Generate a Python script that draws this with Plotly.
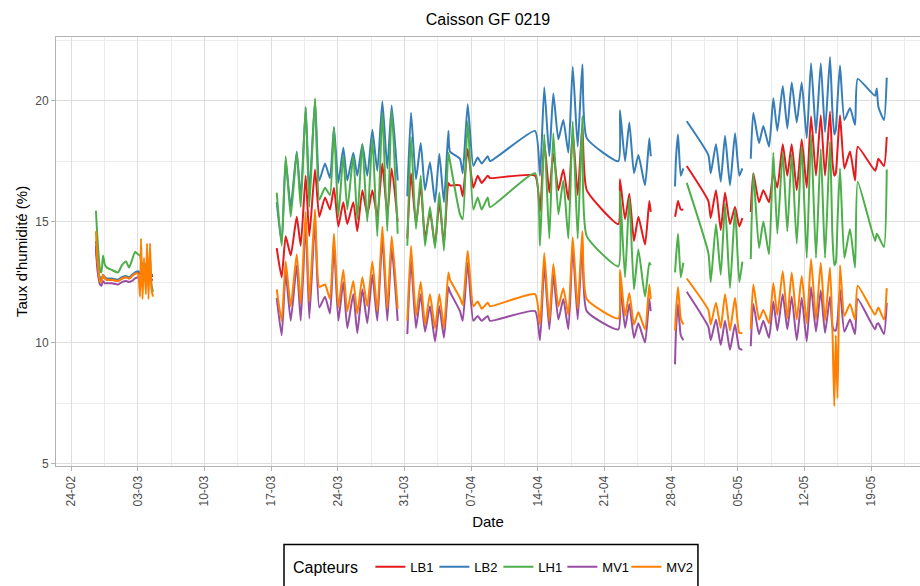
import pandas as pd
import plotly.graph_objects as go

# time of each reading, in days after 24-02-2019 (one list per recording block)
t1 = [2.62, 2.78, 3.05, 3.20, 3.36, 3.57, 3.78, 4.30, 4.93, 5.35, 5.78, 6.09, 6.40, 6.72, 7.03,
      7.25, 7.35, 7.51, 7.66, 7.87, 7.98, 8.14, 8.29, 8.45, 8.61]
t2 = [21.60, 22.12, 22.54, 23.07, 23.70, 24.12, 24.64, 25.02, 25.62, 26.07, 26.67, 27.19, 27.61,
      28.07, 28.59, 29.01, 29.64, 30.06, 30.59, 31.11, 31.64, 32.16, 32.69, 33.21, 33.67, 34.30]
t3 = [35.31, 35.70, 36.22, 36.72, 37.17, 37.69, 38.22, 38.67, 39.16, 39.62, 39.79, 40.84, 41.13,
      41.65, 42.24, 42.70, 43.12, 43.75, 43.99, 48.72, 49.24, 49.69, 50.22, 50.64, 51.17, 51.69,
      52.22, 52.68, 53.20, 53.69, 54.15, 57.47, 57.64, 58.17, 58.62, 59.11, 59.57, 60.27, 60.72, 60.87]
t4 = [63.42, 63.52, 63.73, 64.02, 64.29]
t5 = [64.65, 66.92, 67.17, 67.72, 68.22, 68.67, 69.19, 69.72, 70.17, 70.49]
t6 = [71.37, 71.64, 72.24, 72.69, 73.29, 73.74, 74.16, 74.73, 75.21, 75.67, 76.20, 76.72, 77.25,
      77.70, 78.22, 78.72, 79.17, 79.69, 79.94, 80.14, 80.30, 80.48, 80.74, 81.20, 81.79, 82.32,
      82.60, 84.42, 84.60, 84.77, 85.36, 85.65]
times = [t1, t2, t3, t4, t5, t6]

lb1 = [
    [14.0, 13.2, 12.6, 12.55, 12.75, 12.65, 12.6, 12.6, 12.55, 12.65, 12.7, 12.65, 12.75, 12.85, 12.9,
     12.85, 12.8, 12.75, 12.85, 12.8, 12.75, 12.75, 12.85, 12.75, 12.75],
    [13.9, 12.7, 14.4, 13.6, 15.2, 14.0, 16.9, 14.4, 17.15, 15.2, 16.0, 15.5, 16.4, 14.8, 15.8, 14.9,
     15.8, 14.6, 16.3, 15.3, 16.3, 15.2, 17.4, 15.3, 17.2, 15.0],
    [14.3, 17.0, 14.9, 16.5, 14.3, 15.4, 14.05, 15.8, 14.1, 16.6, 16.5, 16.5, 16.05, 18.0, 16.4, 16.9,
     16.6, 16.9, 16.8, 16.9, 15.4, 18.3, 16.2, 17.8, 16.3, 17.15, 15.9, 18.7, 16.1, 18.95, 16.3, 14.9,
     16.75, 15.1, 16.15, 14.2, 15.2, 14.05, 15.85, 15.4],
    [15.2, 15.4, 15.85, 15.5, 15.5],
    [17.3, 15.85, 15.15, 16.3, 14.65, 16.2, 14.9, 15.6, 14.8, 15.15],
    [15.4, 17.0, 15.8, 16.3, 15.8, 17.0, 16.4, 18.2, 16.9, 18.2, 16.3, 18.4, 16.4, 19.35, 16.9, 19.4,
     16.9, 19.55, 17.5, 16.9, 17.0, 18.0, 19.4, 17.2, 17.9, 16.7, 18.1, 17.1, 17.3, 17.6, 17.3, 18.5],
]
lb2 = [
    [14.2, 13.3, 12.65, 12.6, 12.8, 12.7, 12.65, 12.65, 12.6, 12.7, 12.75, 12.7, 12.8, 12.9, 12.95,
     12.9, 12.85, 12.8, 12.9, 12.85, 12.8, 12.8, 12.9, 12.8, 12.8],
    [15.8, 14.1, 17.5, 15.6, 17.9, 16.0, 19.7, 16.2, 20.0, 16.7, 17.4, 16.8, 18.9, 16.6, 18.05, 16.7,
     17.85, 16.9, 18.2, 16.9, 18.8, 17.1, 19.97, 17.2, 19.8, 16.7],
    [16.05, 19.5, 16.75, 18.25, 16.3, 17.45, 15.8, 17.8, 15.8, 18.75, 17.9, 17.6, 17.0, 19.85, 17.3,
     17.65, 17.4, 17.7, 17.5, 18.75, 16.9, 20.55, 17.7, 20.3, 18.4, 19.2, 17.85, 21.4, 18.1, 21.5,
     18.45, 17.5, 19.6, 17.5, 19.1, 17.0, 17.75, 16.5, 18.45, 17.7],
    [16.45, 17.6, 18.6, 16.9, 17.2],
    [19.15, 17.75, 17.0, 18.2, 16.65, 18.55, 16.5, 18.65, 16.9, 17.2],
    [17.6, 19.5, 18.25, 18.95, 18.1, 20.1, 18.75, 20.6, 18.85, 20.75, 19.1, 20.75, 18.45, 21.55, 18.65,
     21.55, 18.7, 21.8, 19.6, 18.6, 18.8, 20.0, 21.45, 19.2, 19.7, 19.0, 20.9, 20.2, 20.5, 19.75, 19.2,
     20.95],
]
lh1 = [
    [15.45, 14.3, 13.0, 12.9, 13.6, 13.2, 13.1, 13.0, 12.9, 13.2, 13.35, 13.1, 13.4, 13.75, 13.65,
     13.6, 13.4, 13.2, 13.3, 13.15, 12.9, 13.0, 13.6, 12.4, 12.1],
    [16.2, 14.0, 17.7, 15.2, 17.85, 15.6, 19.75, 15.6, 20.1, 15.9, 16.4, 16.1, 18.9, 15.2, 17.7, 15.5,
     17.7, 15.1, 18.2, 15.0, 18.45, 14.4, 19.5, 14.6, 19.6, 14.5],
    [14.0, 18.5, 14.7, 16.9, 14.0, 15.6, 13.9, 16.2, 13.8, 17.85, 17.5, 15.3, 15.1, 19.15, 15.5, 16.0,
     15.5, 16.0, 15.6, 17.0, 14.0, 18.6, 14.3, 18.65, 15.3, 16.7, 14.3, 19.15, 14.3, 19.35, 14.4, 13.15,
     16.25, 12.7, 16.0, 12.2, 13.85, 11.9, 13.3, 13.2],
    [12.9, 13.5, 14.5, 12.7, 13.3],
    [16.6, 13.7, 12.5, 14.9, 12.8, 15.75, 12.25, 15.5, 12.5, 13.35],
    [13.45, 17.0, 13.9, 15.0, 13.65, 17.85, 14.5, 17.85, 14.6, 17.8, 14.1, 18.1, 13.5, 18.6, 13.5, 18.0,
     13.5, 18.3, 14.5, 13.2, 13.3, 15.0, 17.2, 13.5, 14.7, 13.1, 16.65, 14.2, 14.5, 14.4, 13.95, 17.15],
]
mv1 = [
    [13.9, 13.0, 12.4, 12.35, 12.55, 12.45, 12.45, 12.45, 12.4, 12.5, 12.55, 12.5, 12.55, 12.65, 12.7,
     12.7, 12.65, 12.6, 12.65, 12.6, 12.6, 12.6, 12.65, 12.6, 12.6],
    [11.85, 10.3, 12.9, 10.9, 13.2, 10.9, 14.9, 11.0, 15.0, 11.45, 11.9, 11.2, 14.0, 10.9, 12.5, 10.6,
     12.0, 10.4, 12.2, 10.8, 12.8, 10.9, 14.3, 10.9, 13.9, 10.9],
    [10.35, 13.4, 10.6, 12.0, 10.45, 11.5, 10.05, 11.5, 10.2, 12.3, 12.1, 11.3, 10.9, 13.3, 10.9, 11.1,
     10.9, 11.1, 10.9, 11.3, 10.1, 13.2, 10.55, 12.8, 10.95, 11.8, 10.55, 13.9, 10.95, 14.1, 11.3, 10.55,
     12.6, 10.6, 11.6, 10.2, 10.8, 10.0, 11.8, 11.3],
    [9.1, 10.5, 11.6, 10.3, 10.1],
    [12.1, 10.65, 10.1, 10.95, 9.9, 10.9, 9.7, 10.75, 9.75, 9.7],
    [9.85, 11.6, 10.35, 10.9, 10.2, 11.7, 10.5, 12.0, 10.55, 11.9, 10.1, 11.85, 10.05, 12.3, 10.45, 12.15,
     10.4, 11.9, 10.7, 10.5, 10.5, 10.9, 12.2, 10.45, 10.95, 10.35, 11.8, 10.55, 10.75, 10.8, 10.35, 11.65],
]
mv2 = [
    [14.6, 13.4, 12.55, 12.5, 12.8, 12.65, 12.6, 12.6, 12.55, 12.65, 12.7, 12.65, 12.75, 12.85, 12.85,
     11.9, 14.3, 11.8, 13.5, 12.0, 14.1, 11.8, 14.1, 12.2, 11.9],
    [12.2, 10.9, 13.35, 11.5, 13.65, 11.6, 15.4, 11.7, 15.5, 12.3, 12.4, 11.8, 14.5, 11.45, 13.0, 11.3,
     12.55, 11.2, 12.7, 11.5, 13.35, 11.3, 14.8, 11.4, 14.4, 11.4],
    [10.9, 14.0, 11.1, 12.5, 10.75, 12.0, 10.6, 12.0, 10.6, 12.9, 12.6, 11.85, 11.55, 13.8, 11.5, 11.7,
     11.4, 11.65, 11.5, 12.0, 10.75, 13.7, 10.9, 13.25, 11.5, 12.25, 11.15, 14.35, 11.4, 14.6, 11.8, 11.0,
     13.0, 11.1, 12.05, 10.75, 11.25, 10.55, 12.4, 11.8],
    [10.5, 11.3, 12.3, 11.0, 10.75],
    [12.65, 11.35, 10.75, 11.65, 10.6, 12.0, 10.5, 11.85, 10.4, 10.4],
    [10.55, 12.4, 10.95, 11.35, 10.8, 12.45, 11.15, 12.95, 11.0, 12.9, 10.95, 12.75, 10.8, 13.45, 10.95,
     13.3, 10.9, 13.1, 10.6, 7.37, 10.3, 7.7, 13.2, 11.1, 11.6, 10.95, 12.35, 11.15, 11.3, 11.45, 10.95,
     12.25],
]

capteurs = ["LB1", "LB2", "LH1", "MV1", "MV2"]
couleurs = ["#E41A1C", "#377EB8", "#4DAF4A", "#984EA3", "#FF7F00"]

start = pd.Timestamp("2019-02-24")

def build(segs):
    xs, ys = [], []
    for t, v in zip(times, segs):
        assert len(t) == len(v)
        xs += [start + pd.Timedelta(days=d) for d in t] + [None]
        ys += list(v) + [None]
    return xs, ys

fig = go.Figure()
for nom, serie, col in zip(capteurs, [lb1, lb2, lh1, mv1, mv2], couleurs):
    x, y = build(serie)
    fig.add_trace(go.Scatter(x=x, y=y, mode="lines", name=nom,
                             line=dict(color=col, width=2, shape="spline", smoothing=0.5),
                             connectgaps=False))
# empty legend slot so the last label is not clipped by the narrow entries
fig.add_trace(go.Scatter(x=[None], y=[None], mode="lines", name="",
                         line=dict(color="rgba(0,0,0,0)"), hoverinfo="skip"))

grid = "#dedede"
fig.update_layout(
    width=920, height=586,
    paper_bgcolor="white", plot_bgcolor="white",
    font=dict(family="Liberation Sans, Arial, sans-serif", color="black"),
    margin=dict(l=56, r=0, t=37, b=119.5),
    title=dict(text="Caisson GF 0219", x=0.5, xref="paper", xanchor="center",
               y=1 - 19 / 586, yanchor="middle", font=dict(size=16, color="black")),
    legend=dict(orientation="h", x=0.5405, xanchor="center", y=-0.2363, yanchor="middle",
                title=dict(text="Capteurs ", font=dict(size=16)),
                font=dict(size=13), borderwidth=0,
                itemwidth=30, entrywidth=19, bgcolor="rgba(0,0,0,0)"),
    shapes=[dict(type="rect", xref="paper", yref="paper", x0=0.2639, x1=0.743,
                 y0=-0.1828, y1=-0.36, line=dict(color="black", width=1.5),
                 fillcolor="rgba(0,0,0,0)", layer="above")],
)
fig.update_xaxes(
    title=dict(text="Date", font=dict(size=15), standoff=10),
    type="date", automargin=False,
    range=[start - pd.Timedelta(days=1.575), start + pd.Timedelta(days=89.14)],
    tick0="2019-02-24", dtick=7 * 86400000, tickformat="%d-%m", tickangle=-90,
    tickfont=dict(size=12, color="#4d4d4d"),
    ticks="outside", ticklen=4, tickcolor="#b3b3b3",
    showgrid=True, gridcolor=grid, gridwidth=1,
    minor=dict(dtick=3.5 * 86400000, tick0="2019-02-24", showgrid=True,
               gridcolor="#ececec", gridwidth=1),
    showline=True, linecolor="#b3b3b3", linewidth=1, mirror=True, zeroline=False,
)
fig.update_yaxes(
    title=dict(text="Taux d'humidité (%)", font=dict(size=15), standoff=3),
    range=[4.9, 22.63], tick0=5, dtick=5, automargin=False,
    tickfont=dict(size=12, color="#4d4d4d"),
    ticks="outside", ticklen=4, tickcolor="#b3b3b3",
    showgrid=True, gridcolor=grid, gridwidth=1,
    minor=dict(dtick=2.5, tick0=5, showgrid=True, gridcolor="#ececec", gridwidth=1),
    showline=True, linecolor="#b3b3b3", linewidth=1, mirror=True, zeroline=False,
)

# drop the default page margin so the figure sits at the window's corner
fig.write_html("out.html", config={"displayModeBar": False},
               post_script="document.body.style.margin='0';document.body.style.overflow='hidden';")
